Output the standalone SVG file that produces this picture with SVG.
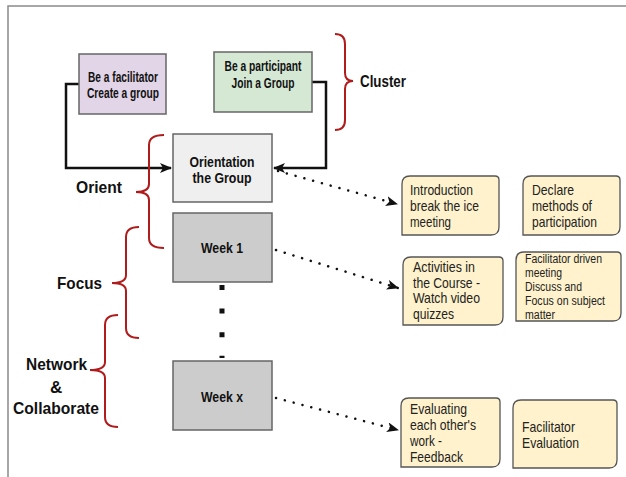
<svg xmlns="http://www.w3.org/2000/svg" width="626" height="477" viewBox="0 0 626 477">
<defs>
<marker id="ah" viewBox="0 0 12 10" refX="11" refY="5" markerWidth="12" markerHeight="10" markerUnits="userSpaceOnUse" orient="auto">
<path d="M0,0 L12,5 L0,10 L3,5 Z" fill="#111"/>
</marker>
<style>
.frame{fill:none;stroke:#8a8a8a;stroke-width:1.5}
.box{stroke:#666;stroke-width:1.5}
.note{fill:#fff2cc;stroke:#555;stroke-width:1.3}
.b{font-family:"Liberation Sans",Arial,sans-serif;font-weight:bold;font-size:14.5px;fill:#111;text-anchor:middle}
.lab{font-family:"Liberation Sans",Arial,sans-serif;font-weight:bold;font-size:17px;fill:#111}
.t{font-family:"Liberation Sans",Arial,sans-serif;font-size:14.5px;fill:#222}
.ts{font-family:"Liberation Sans",Arial,sans-serif;font-size:12px;fill:#222}
.solid{fill:none;stroke:#111;stroke-width:2.5}
.dot{fill:none;stroke:#111;stroke-width:2.5;stroke-linecap:round;stroke-dasharray:0.1 9}
.brace{fill:none;stroke:#b01c1c;stroke-width:2}
</style>
</defs>
<rect width="626" height="477" fill="#fff"/>
<path class="frame" d="M8,477 L8,6 L626,6"/>

<g id="connectors">
<path class="solid" d="M79,84 L66,84 L66,168 L171,168" marker-end="url(#ah)"/>
<path class="solid" d="M312,82 L326,82 L326,168 L274,168" marker-end="url(#ah)"/>
<path d="M222,285 L222,358" fill="none" stroke="#111" stroke-width="5" stroke-dasharray="5 18.6"/>
<path class="dot" d="M278,171 L397,204" marker-end="url(#ah)"/>
<path class="dot" d="M276,250 L398,288" marker-end="url(#ah)"/>
<path class="dot" d="M276,398 L398,430" marker-end="url(#ah)"/>
</g>

<g id="braces">
<path class="brace" d="M335,34 Q345,34 345,44 L345,73 Q345,81 353,81 Q345,81 345,89 L345,120 Q345,130 335,130"/>
<path class="brace" d="M164,135 Q149,135 149,145 L149,184 Q149,192 136,192 Q149,192 149,200 L149,238 Q149,248 164,248"/>
<path class="brace" d="M139,227 Q126,227 126,237 L126,275 Q126,283 112,283 Q126,283 126,291 L126,328 Q126,338 139,338"/>
<path class="brace" d="M118,315 Q105,315 105,325 L105,362 Q105,370 90,370 Q105,370 105,378 L105,417 Q105,427 118,427"/>
</g>

<g id="label-cluster"><text class="lab" x="360" y="87" textLength="46" lengthAdjust="spacingAndGlyphs">Cluster</text></g>
<g id="label-orient"><text class="lab" x="76" y="193" textLength="46" lengthAdjust="spacingAndGlyphs">Orient</text></g>
<g id="label-focus"><text class="lab" x="57" y="289" textLength="45" lengthAdjust="spacingAndGlyphs">Focus</text></g>
<g id="label-network">
<text class="lab" x="26" y="370" textLength="61" lengthAdjust="spacingAndGlyphs">Network</text>
<text class="lab" x="50" y="393">&amp;</text>
<text class="lab" x="13" y="414" textLength="86" lengthAdjust="spacingAndGlyphs">Collaborate</text>
</g>

<g id="facilitator">
<rect class="box" x="79" y="54" width="87" height="60" fill="#e1d5e7"/>
<text class="b" x="123" y="82" textLength="70" lengthAdjust="spacingAndGlyphs">Be a facilitator</text>
<text class="b" x="123" y="98" textLength="72" lengthAdjust="spacingAndGlyphs">Create a group</text>
</g>
<g id="participant">
<rect class="box" x="214" y="52" width="98" height="60" fill="#d5e8d4"/>
<text class="b" x="263" y="71" textLength="77" lengthAdjust="spacingAndGlyphs">Be a participant</text>
<text class="b" x="263" y="88" textLength="63" lengthAdjust="spacingAndGlyphs">Join a Group</text>
</g>
<g id="orientation">
<rect class="box" x="173" y="134" width="99" height="68" fill="#efefef"/>
<text class="b" x="222" y="167" textLength="65" lengthAdjust="spacingAndGlyphs">Orientation</text>
<text class="b" x="222" y="183" textLength="59" lengthAdjust="spacingAndGlyphs">the Group</text>
</g>
<g id="week1">
<rect class="box" x="173" y="213" width="99" height="69" fill="#cccccc"/>
<text class="b" x="222" y="253" textLength="42" lengthAdjust="spacingAndGlyphs">Week 1</text>
</g>
<g id="weekx">
<rect class="box" x="173" y="361" width="99" height="69" fill="#cccccc"/>
<text class="b" x="222" y="402" textLength="42" lengthAdjust="spacingAndGlyphs">Week x</text>
</g>

<g id="introduction">
<path class="note" d="M402,184 Q402,176 410,176 L495,176 Q499,176 499,180 L499,227 Q499,235 491,235 L402,235 Z"/>
<text class="t" x="410" y="195" textLength="63" lengthAdjust="spacingAndGlyphs">Introduction</text>
<text class="t" x="410" y="211" textLength="69" lengthAdjust="spacingAndGlyphs">break the ice</text>
<text class="t" x="410" y="227" textLength="41" lengthAdjust="spacingAndGlyphs">meeting</text>
</g>
<g id="declare">
<path class="note" d="M523,184 Q523,176 531,176 L616,176 Q620,176 620,180 L620,227 Q620,235 612,235 L523,235 Z"/>
<text class="t" x="532" y="195" textLength="42" lengthAdjust="spacingAndGlyphs">Declare</text>
<text class="t" x="532" y="211" textLength="60" lengthAdjust="spacingAndGlyphs">methods of</text>
<text class="t" x="532" y="227" textLength="65" lengthAdjust="spacingAndGlyphs">participation</text>
</g>
<g id="activities">
<path class="note" d="M403,265 Q403,257 411,257 L499,257 Q503,257 503,261 L503,317 Q503,325 495,325 L403,325 Z"/>
<text class="t" x="413" y="272" textLength="62" lengthAdjust="spacingAndGlyphs">Activities in</text>
<text class="t" x="413" y="288" textLength="67" lengthAdjust="spacingAndGlyphs">the Course -</text>
<text class="t" x="413" y="303" textLength="67" lengthAdjust="spacingAndGlyphs">Watch video</text>
<text class="t" x="413" y="319" textLength="41" lengthAdjust="spacingAndGlyphs">quizzes</text>
</g>
<g id="facilitator-driven">
<path class="note" d="M516,260 Q516,252 524,252 L617,252 Q621,252 621,256 L621,313 Q621,321 613,321 L516,321 Z"/>
<text class="ts" x="525" y="263" textLength="77" lengthAdjust="spacingAndGlyphs">Facilitator driven</text>
<text class="ts" x="525" y="277" textLength="37" lengthAdjust="spacingAndGlyphs">meeting</text>
<text class="ts" x="525" y="291" textLength="57" lengthAdjust="spacingAndGlyphs">Discuss and</text>
<text class="ts" x="525" y="305" textLength="80" lengthAdjust="spacingAndGlyphs">Focus on subject</text>
<text class="ts" x="525" y="319" textLength="30" lengthAdjust="spacingAndGlyphs">matter</text>
</g>
<g id="evaluating">
<path class="note" d="M401,406 Q401,398 409,398 L496,398 Q500,398 500,402 L500,459 Q500,467 492,467 L401,467 Z"/>
<text class="t" x="410" y="414" textLength="57" lengthAdjust="spacingAndGlyphs">Evaluating</text>
<text class="t" x="410" y="430" textLength="66" lengthAdjust="spacingAndGlyphs">each other's</text>
<text class="t" x="410" y="446" textLength="32" lengthAdjust="spacingAndGlyphs">work -</text>
<text class="t" x="410" y="462" textLength="53" lengthAdjust="spacingAndGlyphs">Feedback</text>
</g>
<g id="facilitator-evaluation">
<path class="note" d="M513,408 Q513,400 521,400 L613,400 Q617,400 617,404 L617,460 Q617,468 609,468 L513,468 Z"/>
<text class="t" x="522" y="432" textLength="53" lengthAdjust="spacingAndGlyphs">Facilitator</text>
<text class="t" x="522" y="448" textLength="57" lengthAdjust="spacingAndGlyphs">Evaluation</text>
</g>
</svg>
